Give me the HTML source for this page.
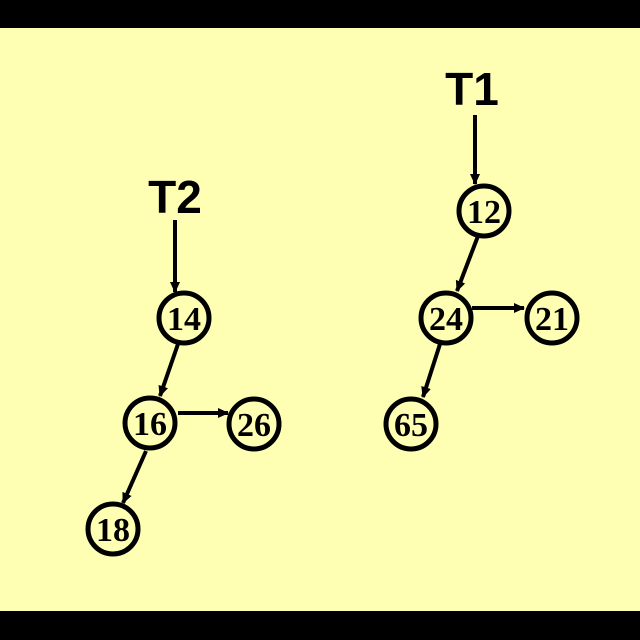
<!DOCTYPE html>
<html><head><style>
html,body{margin:0;padding:0;background:#000;}
svg{display:block;}
</style></head><body>
<svg width="640" height="640" xmlns="http://www.w3.org/2000/svg">
<defs>
<marker id="a" markerWidth="11" markerHeight="10" refX="10" refY="5" orient="auto" markerUnits="userSpaceOnUse">
<path d="M0,0 L11,5 L0,10 z" fill="#000"/>
</marker>
</defs>
<rect x="0" y="0" width="640" height="640" fill="#000"/>
<rect x="0" y="28" width="640" height="583" fill="#FFFFB4"/>
<g font-family="Liberation Sans, sans-serif" font-weight="bold" font-size="46" text-anchor="middle">
<text x="175" y="213">T2</text>
<text x="472" y="105">T1</text>
</g>
<g stroke="#000" stroke-width="4" fill="none" marker-end="url(#a)">
<line x1="175" y1="220" x2="175" y2="292"/>
<line x1="475" y1="115" x2="475" y2="184"/>
<line x1="178" y1="344" x2="160" y2="396"/>
<line x1="178" y1="413" x2="228" y2="413"/>
<line x1="146" y1="451" x2="123" y2="503"/>
<line x1="478" y1="236" x2="457" y2="291"/>
<line x1="472" y1="308" x2="524" y2="308"/>
<line x1="440" y1="344" x2="423" y2="397"/>
</g>
<g stroke="#000" stroke-width="5" fill="#FFFFB4">
<circle cx="184" cy="318" r="25"/>
<circle cx="150" cy="423" r="25"/>
<circle cx="254" cy="424" r="25"/>
<circle cx="113" cy="529" r="25"/>
<circle cx="484" cy="211" r="25"/>
<circle cx="446" cy="318" r="25"/>
<circle cx="552" cy="318" r="25"/>
<circle cx="411" cy="424" r="25"/>
</g>
<g font-family="Liberation Serif, serif" font-weight="bold" font-size="34" text-anchor="middle">
<text x="184" y="330">14</text>
<text x="150" y="435">16</text>
<text x="254" y="436">26</text>
<text x="113" y="541">18</text>
<text x="484" y="223">12</text>
<text x="446" y="330">24</text>
<text x="552" y="330">21</text>
<text x="411" y="436">65</text>
</g>
</svg>
</body></html>
